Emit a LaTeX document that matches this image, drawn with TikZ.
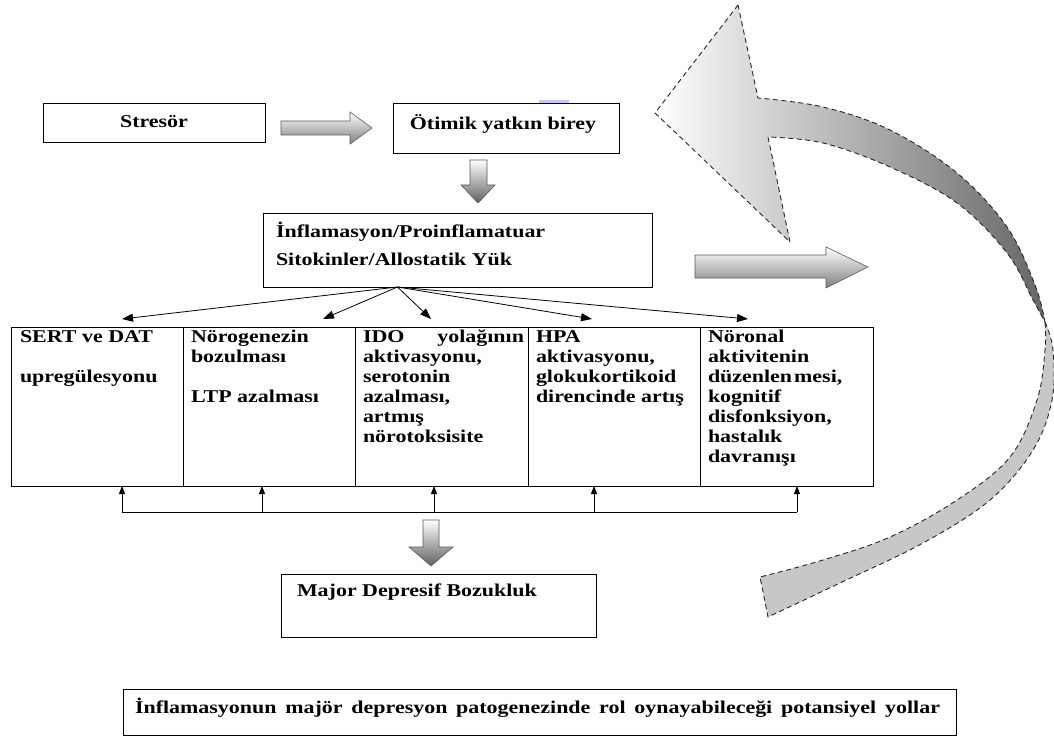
\documentclass[tikz,border=0pt]{standalone}
\usepackage{fontspec}
\setmainfont{Liberation Serif}[FakeStretch=1.22]
\usetikzlibrary{arrows.meta}
\begin{document}
\begin{tikzpicture}[x=1pt,y=-1pt,
  box/.style={draw=black, line width=1pt, anchor=north west, inner sep=0pt, outer sep=0pt},
  txt/.style={anchor=base west, inner sep=0pt, outer sep=0pt, font=\bfseries\fontsize{18}{20}\selectfont},
  fan/.style={line width=0.8pt, -{Triangle[length=11pt,width=8pt]}},
  uparr/.style={line width=0.8pt, -{Triangle[length=8pt,width=6pt]}},
  blkh/.style={draw=black!65, line width=0.6pt, top color=white, bottom color=black!50},
  blkv/.style={draw=black!65, line width=0.6pt, top color=white, bottom color=black!62},
  curv/.style={draw=black!85, line width=0.9pt, dash pattern=on 5pt off 3.5pt}
]
\useasboundingbox (0,0) rectangle (1054,738);

% ---------- curved feedback arrow ----------
\coordinate (T) at (1045,322);
\shade[left color=white, middle color=black!15, right color=black!60]
  (738,5) -- (655,113) -- (790,242) -- (768,137)
  -- plot[smooth, tension=0.6] coordinates {(768,137) (823,143) (890,167) (957,203) (1007,253) (1033,300) (1045,322)}
  -- plot[smooth, tension=0.6] coordinates {(1045,322) (1035,285) (1007,227) (957,173) (890,130) (823,107) (758,98)}
  -- cycle;
\fill[black!22]
  (T) -- plot[smooth, tension=0.6] coordinates {(1045,322) (1053,350) (1052,400) (1033,450) (990,500) (923,543) (840,583) (768,617)}
  -- (760,577)
  -- plot[smooth, tension=0.6] coordinates {(760,577) (823,560) (890,537) (957,500) (1010,457) (1037,400) (1045,350) (1045,322)}
  -- cycle;
\draw[curv]
  (738,5) -- (655,113) -- (790,242) -- (768,137)
  -- plot[smooth, tension=0.6] coordinates {(768,137) (823,143) (890,167) (957,203) (1007,253) (1033,300) (1045,322)}
  -- plot[smooth, tension=0.6] coordinates {(1045,322) (1035,285) (1007,227) (957,173) (890,130) (823,107) (758,98)}
  -- cycle;
\draw[curv]
  (T) -- plot[smooth, tension=0.6] coordinates {(1045,322) (1053,350) (1052,400) (1033,450) (990,500) (923,543) (840,583) (768,617)}
  -- (760,577)
  -- plot[smooth, tension=0.6] coordinates {(760,577) (823,560) (890,537) (957,500) (1010,457) (1037,400) (1045,350) (1045,322)};

% ---------- boxes ----------
\node[box, minimum width=222pt, minimum height=39pt] (stres) at (43,104) {};
\node[box, minimum width=226pt, minimum height=50pt] (otim) at (393,104) {};
\node[box, minimum width=389pt, minimum height=74pt] (infl) at (263,213) {};
\node[box, minimum width=172pt, minimum height=159pt] (r1) at (11,327) {};
\node[box, minimum width=172pt, minimum height=159pt] (r2) at (183,327) {};
\node[box, minimum width=173pt, minimum height=159pt] (r3) at (355,327) {};
\node[box, minimum width=172pt, minimum height=159pt] (r4) at (528,327) {};
\node[box, minimum width=173pt, minimum height=159pt] (r5) at (700,327) {};
\node[box, minimum width=315pt, minimum height=63pt] (major) at (281,574) {};
\node[box, minimum width=833pt, minimum height=46pt] (capbox) at (123,689) {};

\fill[blue!22!white] (539,100) rectangle (569,103);

% ---------- texts ----------
\node[txt, anchor=base] (tstres) at (154,128) {Stresör};
\node[txt, anchor=base] (totim) at (503,130) {Ötimik yatkın birey};
\node[txt] (tinf1) at (276,237) {İnflamasyon/Proinflamatuar};
\node[txt] (tinf2) at (276,265) {Sitokinler/Allostatik Yük};

\foreach \yy/\tt [count=\i] in {342/{SERT ve DAT}, 382/{upregülesyonu}}
  \node[txt] (ta\i) at (20,\yy) {\tt};
\foreach \yy/\tt [count=\i] in {342/{Nörogenezin}, 362/{bozulması}, 402/{LTP azalması}}
  \node[txt] (tb\i) at (191,\yy) {\tt};
\foreach \yy/\tt [count=\i] in {342/{\makebox[161pt][s]{IDO yolağının}}, 362/{aktivasyonu,}, 382/{serotonin}, 402/{azalması,}, 422/{artmış}, 442/{nörotoksisite}}
  \node[txt] (tc\i) at (363,\yy) {\tt};
\foreach \yy/\tt [count=\i] in {342/{HPA}, 362/{aktivasyonu,}, 382/{glokukortikoid}, 402/{direncinde artış}}
  \node[txt] (td\i) at (536,\yy) {\tt};
\foreach \yy/\tt [count=\i] in {342/{Nöronal}, 362/{aktivitenin}, 382/{düzenlen\kern2pt mesi,}, 402/{kognitif}, 422/{disfonksiyon,}, 442/{hastalık}, 462/{davranışı}}
  \node[txt] (te\i) at (708,\yy) {\tt};

\node[txt] (tmajor) at (297,596) {Major Depresif Bozukluk};
\node[txt] (tcap) at (135,713) {\makebox[805pt][s]{İnflamasyonun majör depresyon patogenezinde rol oynayabileceği potansiyel yollar}};

% ---------- block arrows ----------
\path[blkh, shade, draw] (281,121) -- (350,121) -- (350,112) -- (372,128) -- (350,144) -- (350,135) -- (281,135) -- cycle;
\path[blkv, shade, draw] (470,160) -- (487,160) -- (487,185) -- (495,185) -- (478,203) -- (461,185) -- (470,185) -- cycle;
\path[blkh, shade, draw] (695,255) -- (826,255) -- (826,247) -- (868,267) -- (826,288) -- (826,278) -- (695,278) -- cycle;
\path[blkv, shade, draw] (423,520) -- (439,520) -- (439,547) -- (453,547) -- (431,566) -- (409,547) -- (423,547) -- cycle;

% ---------- fan connectors ----------
\coordinate (fo) at ([xshift=-60pt]infl.south);
\coordinate (f1) at (122,319);
\coordinate (f2) at (323,319);
\coordinate (f3) at (431,319);
\coordinate (f4) at (592,319);
\coordinate (f5) at (748,319);
\foreach \k in {1,...,5} \draw[fan] (fo) -- (f\k);

% ---------- bottom bracket ----------
\coordinate (b1) at (122,512);
\coordinate (b2) at (262,512);
\coordinate (b3) at (434,512);
\coordinate (b4) at (594,512);
\coordinate (b5) at (797,512);
\draw[line width=0.8pt] (b1) -- (b5);
\draw[uparr] (b1) -- (b1 |- r1.south);
\draw[uparr] (b2) -- (b2 |- r2.south);
\draw[uparr] (b3) -- (b3 |- r3.south);
\draw[uparr] (b4) -- (b4 |- r4.south);
\draw[uparr] (b5) -- (b5 |- r5.south);
\end{tikzpicture}
\end{document}
